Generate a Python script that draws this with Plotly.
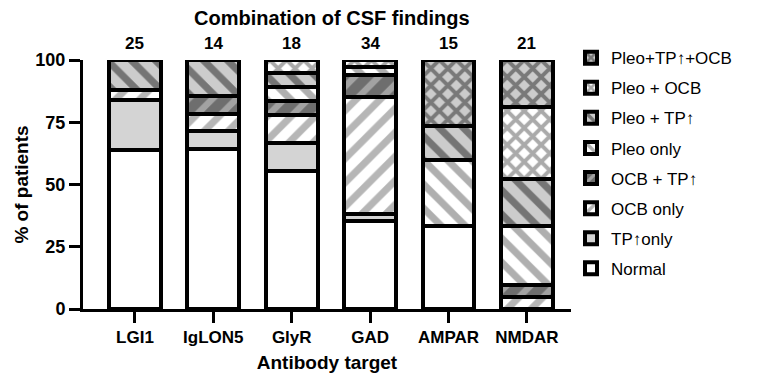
import plotly.graph_objects as go

categories = ["LGI1", "IgLON5", "GlyR", "GAD", "AMPAR", "NMDAR"]
n_patients = ["25", "14", "18", "34", "15", "21"]

# percentages of patients per CSF finding combination (bottom -> top of stack)
normal        = [64.0, 64.3, 55.6, 35.3, 33.3, 0.0]
tp_only       = [20.0, 7.1, 11.1, 2.9, 0.0, 0.0]
ocb_only      = [4.0, 7.1, 11.1, 47.1, 0.0, 4.8]
ocb_tp        = [0.0, 7.1, 5.6, 8.8, 0.0, 4.8]
pleo_only     = [0.0, 0.0, 5.6, 2.9, 26.7, 23.8]
pleo_tp       = [12.0, 14.3, 5.6, 0.0, 13.3, 19.0]
pleo_ocb      = [0.0, 0.0, 5.6, 2.9, 0.0, 28.6]
pleo_tp_ocb   = [0.0, 0.0, 0.0, 0.0, 26.7, 19.0]

series_names = ["Normal", "TP\u2191only", "OCB only", "OCB + TP\u2191",
                "Pleo only", "Pleo + TP\u2191", "Pleo + OCB", "Pleo+TP\u2191+OCB"]
series_values = [normal, tp_only, ocb_only, ocb_tp, pleo_only, pleo_tp, pleo_ocb, pleo_tp_ocb]

# style: (background, pattern shape, pattern colour, pattern size, solidity)
styles = [
    ("#ffffff", "", "#000000", 8, 0.3),
    ("#d4d4d4", "", "#000000", 8, 0.3),
    ("#ffffff", "/", "#6e6e6e", 17, 0.42),
    ("#6e6e6e", "/", "#d6d6d6", 17, 0.38),
    ("#ffffff", "\\", "#606060", 17, 0.42),
    ("#cccccc", "\\", "#1e1e1e", 17, 0.42),
    ("#ffffff", "x", "#555555", 12, 0.55),
    ("#cccccc", "x", "#262626", 12, 0.55),
]

FONT = "Arial, Liberation Sans, sans-serif"

fig = go.Figure()
for i, (name, vals, st) in enumerate(zip(series_names, series_values, styles)):
    bg, shape, fg, size, sol = st
    pattern = dict(shape=shape, fgcolor=fg, size=size, solidity=sol, fillmode="overlay")
    fig.add_trace(go.Bar(
        x=categories, y=vals, name=name,
        width=0.66,
        marker=dict(color=bg, line=dict(color="#000000", width=4), pattern=pattern),
        legendgroup=f"g{i}",
        legendrank=100 - i,
        cliponaxis=False,
        hoverinfo="skip",
    ))

annotations = []
for c, n in zip(categories, n_patients):
    annotations.append(dict(
        x=c, y=100, xref="x", yref="y", text=n, showarrow=False,
        yanchor="bottom", yshift=5,
        font=dict(family=FONT, size=17, color="#000000", weight="bold"),
    ))

fig.update_layout(
    barmode="stack",
    width=765, height=375,
    margin=dict(l=65, r=202, t=52, b=73),
    plot_bgcolor="white", paper_bgcolor="white",
    font=dict(family=FONT, color="#000000"),
    title=dict(text="Combination of CSF findings", x=0.51, xref="paper",
               y=0.993, yref="container", yanchor="top",
               font=dict(family=FONT, size=20, weight="bold", color="#000000")),
    showlegend=True,
    legend=dict(
        x=1.0, y=1.08, xanchor="left", yanchor="top",
        traceorder="grouped", tracegroupgap=5,
        font=dict(family=FONT, size=17, color="#000000"),
        bgcolor="rgba(0,0,0,0)",
        maxheight=1.0,
    ),
    annotations=annotations,
)

fig.update_xaxes(
    range=[-0.6625, 5.5625],
    showline=True, linecolor="#000000", linewidth=3,
    ticks="outside", ticklen=11, tickwidth=3, tickcolor="#000000",
    tickfont=dict(family=FONT, size=17, weight="bold", color="#000000"),
    title=dict(text="Antibody target", standoff=10,
               font=dict(family=FONT, size=19, weight="bold", color="#000000")),
    showgrid=False, zeroline=False,
)
fig.update_yaxes(
    range=[0, 100], tickvals=[0, 25, 50, 75, 100],
    showline=True, linecolor="#000000", linewidth=3,
    ticks="outside", ticklen=11, tickwidth=3, tickcolor="#000000",
    tickfont=dict(family=FONT, size=18, weight="bold", color="#000000"),
    title=dict(text="% of patients", standoff=2,
               font=dict(family=FONT, size=19, weight="bold", color="#000000")),
    showgrid=False, zeroline=False,
)

fig.write_html("out.html")
